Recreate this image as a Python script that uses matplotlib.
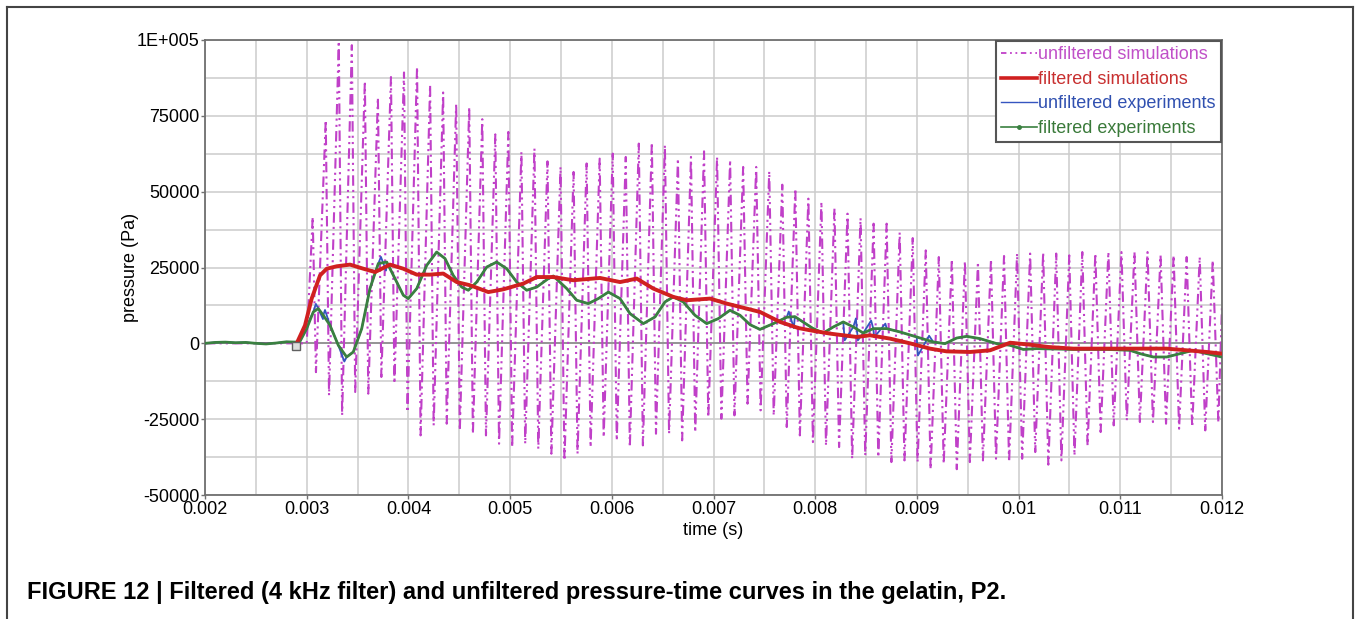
# utf-8
import numpy as np
import matplotlib
matplotlib.use("Agg")
import matplotlib.pyplot as plt
from matplotlib.lines import Line2D

plt.rcParams['font.family'] = ['Liberation Sans', 'DejaVu Sans']

# unfiltered simulations: crest / trough values (Pa)
sim_peak_span = (0.003059, 0.011909)     # time of first and last crest
sim_trough_span = (0.003091, 0.011964)   # time of first and last trough
sim_peaks = [41650, 73550, 99600, 98300, 86400, 81000, 87800, 89300, 91100, 85100,
             82700, 79000, 77900, 73900, 68900, 69700, 63100, 64200, 60000,
             58150, 56500, 59300, 60900, 62550, 61450, 65850, 66200, 65300, 60900,
             61450, 63300, 61450, 60350, 58150, 58150, 56700, 52300, 51000,
             47700, 46600, 44400, 42750, 41300, 39450, 39450, 36500, 34700, 30650,
             28450, 27700, 27050, 26800, 27700, 28800, 29600, 29600, 29900,
             29600, 29000, 30100, 29600, 30100, 30100, 30100, 30100, 29000,
             29000, 28450, 28450, 27350]
sim_troughs = [-9500, -17150, -23750, -16050, -16600, -11100, -13200, -22650, -30350,
               -27050, -26500, -28700, -29800, -30350, -33100, -34200, -33100, -34750,
               -36400, -38600, -36400, -34200, -30900, -32000, -34200, -33650, -29800,
               -29800, -32000, -29250, -24300, -24850, -23750, -19900, -22100, -23750,
               -27600, -30350,
               -32550, -33650, -34200, -38050, -36950, -37500, -39150, -38600, -39150,
               -41500, -39700, -41500, -39150, -38600, -38050, -39150, -38050, -35850,
               -40000, -38600, -36950, -33650, -29250, -27050, -25400, -25950, -25950,
               -26500, -28150, -27600, -28700, -25950]
sim_start_t = [0.002, 0.0030]
sim_start_p = [0, 0]
sim_end_t = [0.012]
sim_end_p = [12500]

# filtered simulations
fsim_t = [0.002902, 0.002983, 0.003049, 0.003131, 0.003197, 0.003295, 0.003426,
          0.003557, 0.003672, 0.003819, 0.003950, 0.004082, 0.004212, 0.004343,
          0.004475, 0.004606, 0.004786, 0.004933, 0.005130, 0.005262, 0.005425,
          0.005621, 0.005884, 0.006081, 0.006245, 0.006408, 0.006605, 0.006737,
          0.006966, 0.007130, 0.007326, 0.007457, 0.007654, 0.007834, 0.007949,
          0.008146, 0.008408, 0.008539, 0.008736, 0.008932, 0.009129, 0.009293,
          0.009522, 0.009719, 0.009850, 0.009916, 0.010112, 0.010292, 0.010538,
          0.011456, 0.011653, 0.011850, 0.012]
fsim_p = [0, 5900, 14750, 22400, 24600, 25400, 25950, 24600, 23500, 25950, 24600,
          22650, 22650, 23000, 20200, 19150, 16900, 17800, 19700, 21850, 21850,
          20800, 21550, 20200, 21350, 18050, 15300, 14200, 14750, 13100, 11450,
          10350, 7050, 5050, 4300, 3200, 2100, 2650, 1550, 0, -1750, -2650, -2850,
          -2300, -650, 200, -450, -1200, -1750, -1750, -2300, -2850, -3400]

# filtered experiments
fexp_t = [0.0020, 0.0021, 0.0022, 0.0023, 0.0024, 0.0025, 0.0026, 0.0027, 0.0028,
          0.00290, 0.002934, 0.003000, 0.003065, 0.003114, 0.003163, 0.003229,
          0.003311, 0.003393, 0.003458, 0.003541, 0.003622, 0.003704, 0.003787,
          0.003868, 0.003950, 0.003999, 0.004082, 0.004180, 0.004278, 0.004360,
          0.004441, 0.004524, 0.004589, 0.004672, 0.004770, 0.004868, 0.004967,
          0.005065, 0.005163, 0.005262, 0.005376, 0.005425, 0.005557, 0.005655,
          0.005769, 0.005867, 0.005966, 0.006081, 0.006179, 0.006310, 0.006425,
          0.006523, 0.006605, 0.006703, 0.006818, 0.006933, 0.007047, 0.007162,
          0.007261, 0.007359, 0.007457, 0.007588, 0.007720, 0.007800, 0.007880,
          0.007981, 0.008080, 0.008178, 0.008276, 0.008375, 0.008473, 0.008571,
          0.008703, 0.008834, 0.008998, 0.009161, 0.009276, 0.009391, 0.009490,
          0.009621, 0.009785, 0.009916, 0.010046, 0.010178, 0.010538, 0.010866,
          0.011095, 0.011194, 0.011325, 0.011456, 0.011587, 0.011718, 0.011850,
          0.012]
fexp_p = [0, 300, 400, 200, 300, 0, -200, 100, 500, 400, 650, 4850, 10350, 11450,
          9250, 5950, -650, -4500, -2850, 4850, 18050, 26300, 26800, 21350, 15850,
          14750, 18050, 25700, 30100, 27950, 22400, 18550, 17500, 20200, 25150,
          26800, 24600, 20200, 17500, 18550, 21350, 22200, 18050, 14200, 13100,
          14750, 16900, 14750, 9800, 6500, 8700, 13650, 15300, 13650, 9250, 6500,
          8150, 10900, 9250, 6150, 4600, 6500, 8600, 8800, 7050, 4850, 3400, 5400,
          7050, 5400, 3400, 4850, 4850, 3750, 2100, 450, -100, 1750, 2300, 1550,
          -100, -650, -2000, -1750, -2000, -2000, -2300, -3400, -4500, -4500,
          -3400, -2300, -3400, -4500]

# unfiltered experiments: same trace, plus the spikes that stick out of it
uexp_spike_t = [0.00303, 0.00309, 0.00316, 0.00318, 0.00337, 0.00373, 0.00378,
                0.00774, 0.00779, 0.00829, 0.00840, 0.00842, 0.00855, 0.00858,
                0.00869, 0.00901, 0.00912]
uexp_spike_p = [8000, 13000, 8000, 11000, -6000, 28500, 24000, 10500, 5000, 1000,
                8200, 1000, 7500, 2000, 6500, -4000, 2500]

marker_t = [0.00289]
marker_p = [-1000]

xtick_vals = [0.002, 0.003, 0.004, 0.005, 0.006, 0.007, 0.008, 0.009, 0.01, 0.011, 0.012]
xtick_text = ['0.002', '0.003', '0.004', '0.005', '0.006', '0.007', '0.008',
              '0.009', '0.01', '0.011', '0.012']
ytick_vals = [-50000, -25000, 0, 25000, 50000, 75000, 100000]
ytick_text = ['-50000', '-25000', '0', '25000', '50000', '75000', '1E+005']

labels = ['unfiltered simulations', 'filtered simulations',
          'unfiltered experiments', 'filtered experiments']
colors = ['#c040c8', '#d02020', '#3555c0', '#3a8040']
text_colors = ['#c050c8', '#c83030', '#3050b0', '#3a7a3a']


def sim_series():
    "crests and troughs in time order"
    tp = np.linspace(sim_peak_span[0], sim_peak_span[1], len(sim_peaks))
    tt = np.linspace(sim_trough_span[0], sim_trough_span[1], len(sim_troughs))
    t = np.concatenate([sim_start_t, tp, tt, sim_end_t])
    p = np.concatenate([sim_start_p, sim_peaks, sim_troughs, sim_end_p])
    order = np.argsort(t)
    return t[order], p[order]


def raw_series():
    t = np.concatenate([fexp_t, uexp_spike_t])
    p = np.concatenate([fexp_p, uexp_spike_p])
    order = np.argsort(t)
    return t[order], p[order]


def plot_image():
    fig = plt.figure(figsize=(13.55, 6.19), dpi=100)
    ax = fig.add_axes([205 / 1355, 1 - 495 / 619, (1222 - 205) / 1355, (495 - 40) / 619])

    # grid every 0.0005 s and 12500 Pa
    ax.set_xticks(np.arange(0.002, 0.01201, 0.0005), minor=True)
    ax.set_yticks(np.arange(-50000, 100001, 12500), minor=True)
    ax.grid(which='both', color='#cccccc', linewidth=1.1)
    ax.set_axisbelow(True)
    ax.axhline(0, color='#8a8a8a', linewidth=1.2, zorder=1)

    st, sp = sim_series()
    ax.plot(st, sp, color=colors[0], linewidth=1.5,
            linestyle=(0, (5, 2, 1, 2, 1, 2)), zorder=2)
    rt, rp = raw_series()
    ax.plot(rt, rp, color=colors[2], linewidth=1.3, zorder=3)
    ax.plot(fexp_t, fexp_p, color=colors[3], linewidth=2.0, zorder=4)
    ax.plot(fsim_t, fsim_p, color=colors[1], linewidth=2.8, zorder=5,
            solid_joinstyle='round')
    ax.plot(marker_t, marker_p, 's', markersize=6, mfc='#dddddd', mec='#606060',
            mew=1.0, zorder=6)

    ax.set_xlim(0.002, 0.012)
    ax.set_ylim(-50000, 100000)
    ax.set_xticks(xtick_vals)
    ax.set_xticklabels(xtick_text)
    ax.set_yticks(ytick_vals)
    ax.set_yticklabels(ytick_text)
    ax.tick_params(which='major', length=3, width=1, color='#707070',
                   labelsize=13, pad=1)
    ax.tick_params(which='minor', length=0)
    for s in ax.spines.values():
        s.set_color('#707070')
        s.set_linewidth(1.3)

    ax.set_xlabel('time (s)', fontsize=13, labelpad=3)
    ax.set_ylabel('pressure (Pa)', fontsize=13, labelpad=-2)

    handles = [
        Line2D([], [], color=colors[0], linewidth=1.3, linestyle=(0, (3, 2, 1, 2, 1, 2))),
        Line2D([], [], color=colors[1], linewidth=2.6),
        Line2D([], [], color=colors[2], linewidth=1.0),
        Line2D([], [], color=colors[3], linewidth=1.2, marker='.', markersize=5),
    ]
    leg = ax.legend(handles, labels, loc='upper right', fontsize=13,
                    handlelength=2.0, handletextpad=0.05, labelspacing=0.42,
                    borderpad=0.3, borderaxespad=0.05, fancybox=False,
                    framealpha=1, edgecolor='#555555')
    leg.get_frame().set_linewidth(1.5)
    for txt, c in zip(leg.get_texts(), text_colors):
        txt.set_color(c)

    # outer frame of the figure panel
    fr = dict(color='#444444', linewidth=1.5, transform=fig.transFigure)
    fig.add_artist(Line2D([7 / 1355, 7 / 1355], [0, 1 - 7 / 619], **fr))
    fig.add_artist(Line2D([7 / 1355, 1353 / 1355], [1 - 7 / 619, 1 - 7 / 619], **fr))
    fig.add_artist(Line2D([1353 / 1355, 1353 / 1355], [0, 1 - 7 / 619], **fr))

    fig.text(27 / 1355, 1 - 593 / 619,
             'FIGURE 12 | Filtered (4 kHz filter) and unfiltered pressure-time curves in the gelatin, P2.',
             fontsize=17, fontweight='bold', va='center', ha='left')

    fig.savefig('out.png', dpi=100)


def main():
    plot_image()


if __name__ == '__main__':
    main()
